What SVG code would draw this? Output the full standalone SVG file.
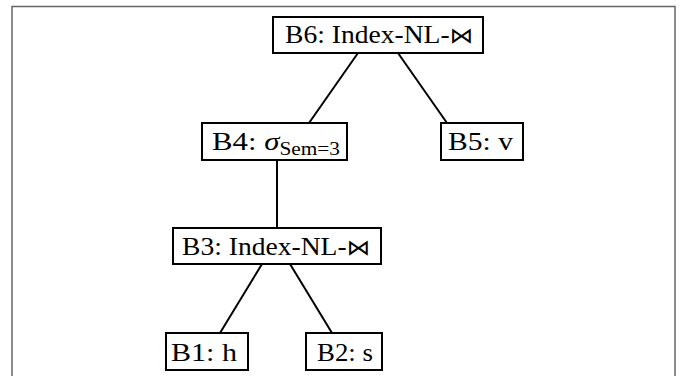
<svg xmlns="http://www.w3.org/2000/svg" width="682" height="376" viewBox="0 0 682 376">
<style>
.box{fill:#fff;stroke:#000;stroke-width:2}
.t{font-family:"Liberation Serif","DejaVu Serif",serif;font-size:26px;fill:#000}
.sub{font-size:18px}
.bt{font-family:"DejaVu Sans",sans-serif;font-size:22px}
.edge{stroke:#000;stroke-width:2;fill:none}
</style>
<rect x="0" y="0" width="682" height="376" fill="#fff"/>
<rect x="12" y="6.5" width="663" height="380" fill="none" stroke="#666" stroke-width="1.5"/>
<g id="connectors">
<line class="edge" x1="358" y1="53" x2="309" y2="123"/>
<line class="edge" x1="398" y1="53" x2="447" y2="123"/>
<line class="edge" x1="277" y1="160" x2="277" y2="228"/>
<line class="edge" x1="262" y1="264" x2="220" y2="333"/>
<line class="edge" x1="290" y1="264" x2="332" y2="333"/>
</g>
<g id="B6">
<rect class="box" x="273" y="17" width="210" height="36"/>
<text class="t" x="285" y="43" textLength="188" lengthAdjust="spacingAndGlyphs">B6: Index-NL-<tspan class="bt">⋈</tspan></text>
</g>
<g id="B4">
<rect class="box" x="202" y="123" width="145" height="37"/>
<text class="t" x="212" y="150" textLength="128" lengthAdjust="spacingAndGlyphs">B4: <tspan font-style="italic">σ</tspan><tspan class="sub" dy="5">Sem=3</tspan></text>
</g>
<g id="B5">
<rect class="box" x="441" y="123" width="82" height="37"/>
<text class="t" x="448" y="150" textLength="65" lengthAdjust="spacingAndGlyphs">B5: v</text>
</g>
<g id="B3">
<rect class="box" x="173" y="228" width="208" height="36"/>
<text class="t" x="182" y="255" textLength="188" lengthAdjust="spacingAndGlyphs">B3: Index-NL-<tspan class="bt">⋈</tspan></text>
</g>
<g id="B1">
<rect class="box" x="166" y="333" width="82" height="37"/>
<text class="t" x="171" y="361" textLength="66" lengthAdjust="spacingAndGlyphs">B1: h</text>
</g>
<g id="B2">
<rect class="box" x="306" y="333" width="76" height="37"/>
<text class="t" x="317" y="361" textLength="56" lengthAdjust="spacingAndGlyphs">B2: s</text>
</g>
</svg>
